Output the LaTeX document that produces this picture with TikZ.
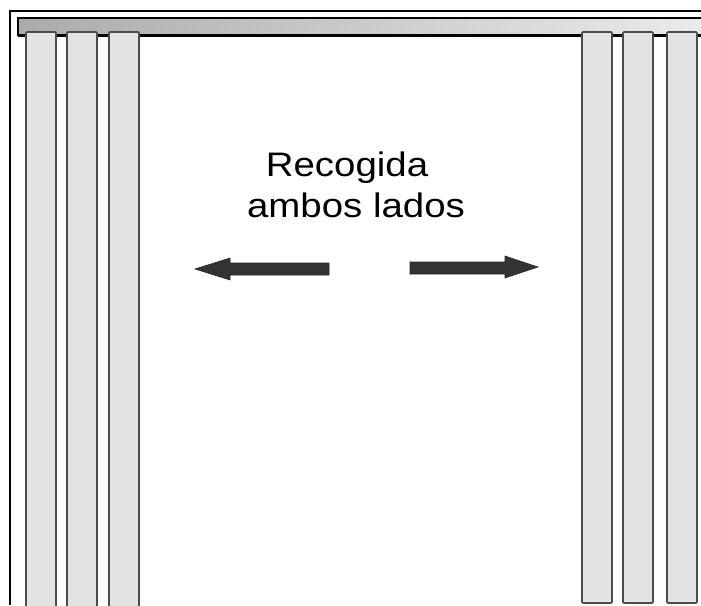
\documentclass[tikz,border=0pt]{standalone}
\usepackage{fontspec}
\setmainfont{Liberation Sans}
\begin{document}
\begin{tikzpicture}[x=1pt,y=-1pt,
  panel/.style={draw=black!70,line width=1.6pt,fill=black!11,rounded corners=1pt},
  arrowbody/.style={fill=black!80,draw=black!85,line width=0.6pt,line join=miter},
  label/.style={font=\fontsize{34}{40}\selectfont,xscale=1.13,text=black,inner sep=0pt,anchor=base}]
\useasboundingbox[fill=white] (0,0) rectangle (701,605);
% outer frame
\draw[line width=1.4pt] (10,605) -- (10,11) -- (702,11);
% rail
\draw[line width=1.8pt,left color=black!33,right color=black!8] (17.7,18) rectangle (705,35.5);
\draw[line width=2.6pt] (17.7,35.5) -- (705,35.5);
% left panels
\draw[panel] (26,612) -- (26,32) -- (56,32) -- (56,612);
\draw[panel] (67,612) -- (67,32) -- (97,32) -- (97,612);
\draw[panel] (109,612) -- (109,32) -- (139,32) -- (139,612);
% right panels
\draw[panel] (582,32) rectangle (612,603);
\draw[panel] (623,32) rectangle (653,603);
\draw[panel] (667,32) rectangle (697,603);
% text
\node[label] (t1) at (347,176) {Recogida};
\node[label] (t2) at (356,217.5) {ambos lados};
% arrows
\filldraw[arrowbody] (195,269) -- (230,258) -- (230,263) -- (329,263) -- (329,275) -- (230,275) -- (230,280) -- cycle;
\filldraw[arrowbody] (538,267) -- (505,256) -- (505,262) -- (410,262) -- (410,274) -- (505,274) -- (505,278) -- cycle;
\end{tikzpicture}
\end{document}
